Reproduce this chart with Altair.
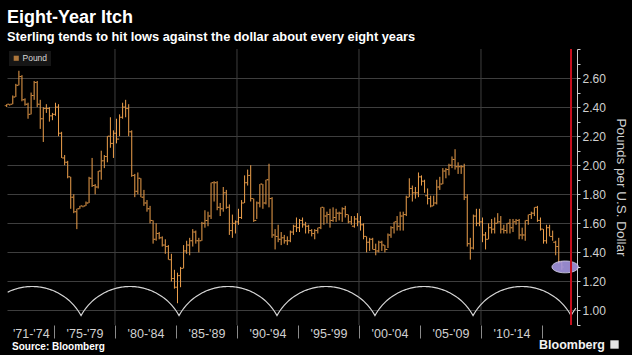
import altair as alt
import pandas as pd
import numpy as np

ORANGE = "#eea04c"
FONT = "Liberation Sans"

# ---- quarterly GBP/USD bars, 1971Q1 .. 2016Q3 (low, high, close) ----
q_low = [
    2.40, 2.41, 2.42, 2.47,  # 1971
    2.55, 2.44, 2.41, 2.32,  # 1972
    2.35, 2.45, 2.40, 2.25,  # 1973
    2.16, 2.36, 2.30, 2.31,  # 1974
    2.34, 2.20, 2.05, 2.00,  # 1975
    1.91, 1.70, 1.67, 1.56,  # 1976
    1.70, 1.71, 1.72, 1.74,  # 1977
    1.85, 1.80, 1.84, 1.90,  # 1978
    1.98, 2.02, 2.12, 2.05,  # 1979
    2.15, 2.20, 2.32, 2.33,  # 1980
    2.20, 1.92, 1.78, 1.80,  # 1981
    1.78, 1.72, 1.68, 1.60,  # 1982
    1.46, 1.48, 1.49, 1.44,  # 1983
    1.39, 1.35, 1.20, 1.15,  # 1984
    1.05, 1.16, 1.29, 1.39,  # 1985
    1.38, 1.44, 1.46, 1.40,  # 1986
    1.48, 1.57, 1.58, 1.63,  # 1987
    1.75, 1.69, 1.65, 1.68,  # 1988
    1.70, 1.52, 1.50, 1.53,  # 1989
    1.59, 1.63, 1.74, 1.86,  # 1990
    1.75, 1.61, 1.63, 1.71,  # 1991
    1.70, 1.73, 1.71, 1.50,  # 1992
    1.42, 1.47, 1.45, 1.46,  # 1993
    1.45, 1.47, 1.52, 1.54,  # 1994
    1.54, 1.57, 1.53, 1.53,  # 1995
    1.51, 1.49, 1.53, 1.56,  # 1996
    1.59, 1.60, 1.57, 1.61,  # 1997
    1.61, 1.62, 1.61, 1.64,  # 1998
    1.60, 1.59, 1.57, 1.58,  # 1999
    1.55, 1.49, 1.40, 1.41,  # 2000
    1.42, 1.38, 1.40, 1.41,  # 2001
    1.40, 1.43, 1.50, 1.53,  # 2002
    1.55, 1.55, 1.55, 1.65,  # 2003
    1.78, 1.75, 1.77, 1.78,  # 2004
    1.86, 1.81, 1.73, 1.71,  # 2005
    1.72, 1.73, 1.83, 1.87,  # 2006
    1.91, 1.93, 1.98, 1.97,  # 2007
    1.94, 1.94, 1.76, 1.44,  # 2008
    1.35, 1.42, 1.58, 1.58,  # 2009
    1.47, 1.42, 1.49, 1.53,  # 2010
    1.53, 1.60, 1.53, 1.53,  # 2011
    1.53, 1.53, 1.54, 1.59,  # 2012
    1.49, 1.49, 1.48, 1.59,  # 2013
    1.63, 1.65, 1.61, 1.55,  # 2014
    1.46, 1.46, 1.51, 1.48,  # 2015
    1.38, 1.32, 1.28,        # 2016
]
q_high = [
    2.42, 2.42, 2.48, 2.56,
    2.65, 2.62, 2.46, 2.43,
    2.50, 2.58, 2.58, 2.45,
    2.40, 2.42, 2.40, 2.36,
    2.43, 2.42, 2.23, 2.07,
    2.03, 1.92, 1.80, 1.70,
    1.72, 1.72, 1.75, 1.92,
    2.05, 1.87, 1.96, 2.10,
    2.07, 2.20, 2.33, 2.24,
    2.32, 2.35, 2.43, 2.45,
    2.42, 2.24, 1.94, 1.95,
    1.91, 1.83, 1.76, 1.72,
    1.62, 1.60, 1.54, 1.51,
    1.49, 1.45, 1.39, 1.28,
    1.26, 1.30, 1.45, 1.48,
    1.50, 1.56, 1.55, 1.50,
    1.61, 1.69, 1.68, 1.88,
    1.89, 1.89, 1.74, 1.85,
    1.83, 1.73, 1.66, 1.62,
    1.70, 1.76, 1.93, 1.97,
    2.00, 1.77, 1.75, 1.87,
    1.87, 1.90, 2.01, 1.78,
    1.56, 1.59, 1.54, 1.52,
    1.51, 1.55, 1.59, 1.64,
    1.63, 1.64, 1.61, 1.59,
    1.56, 1.56, 1.57, 1.71,
    1.71, 1.68, 1.70, 1.71,
    1.70, 1.68, 1.71, 1.72,
    1.66, 1.65, 1.65, 1.67,
    1.65, 1.60, 1.51, 1.50,
    1.50, 1.46, 1.48, 1.48,
    1.45, 1.53, 1.58, 1.61,
    1.65, 1.68, 1.68, 1.79,
    1.91, 1.86, 1.85, 1.95,
    1.93, 1.90, 1.84, 1.79,
    1.79, 1.90, 1.92, 1.98,
    1.98, 2.01, 2.06, 2.11,
    2.02, 2.00, 2.01, 1.80,
    1.50, 1.66, 1.70, 1.70,
    1.64, 1.54, 1.60, 1.63,
    1.64, 1.67, 1.65, 1.59,
    1.60, 1.63, 1.63, 1.63,
    1.63, 1.57, 1.62, 1.66,
    1.68, 1.71, 1.72, 1.64,
    1.56, 1.59, 1.59, 1.55,
    1.48, 1.50, 1.34,
]
q_close = [
    2.42, 2.42, 2.47, 2.55,
    2.61, 2.45, 2.42, 2.35,
    2.48, 2.57, 2.42, 2.32,
    2.39, 2.39, 2.34, 2.35,
    2.40, 2.22, 2.05, 2.02,
    1.92, 1.78, 1.68, 1.70,
    1.72, 1.72, 1.74, 1.91,
    1.86, 1.85, 1.96, 2.03,
    2.06, 2.20, 2.15, 2.22,
    2.18, 2.33, 2.40, 2.39,
    2.23, 1.93, 1.82, 1.91,
    1.78, 1.74, 1.70, 1.62,
    1.49, 1.53, 1.50, 1.45,
    1.44, 1.35, 1.22, 1.16,
    1.24, 1.29, 1.41, 1.45,
    1.48, 1.54, 1.48, 1.48,
    1.60, 1.62, 1.65, 1.88,
    1.88, 1.71, 1.70, 1.81,
    1.71, 1.55, 1.60, 1.61,
    1.64, 1.74, 1.88, 1.93,
    1.77, 1.62, 1.74, 1.87,
    1.74, 1.90, 1.77, 1.52,
    1.51, 1.49, 1.50, 1.48,
    1.48, 1.54, 1.58, 1.57,
    1.62, 1.59, 1.58, 1.55,
    1.53, 1.55, 1.57, 1.71,
    1.65, 1.66, 1.62, 1.64,
    1.67, 1.67, 1.70, 1.66,
    1.61, 1.58, 1.63, 1.61,
    1.59, 1.51, 1.47, 1.49,
    1.42, 1.41, 1.47, 1.45,
    1.42, 1.52, 1.57, 1.61,
    1.58, 1.65, 1.66, 1.78,
    1.84, 1.81, 1.81, 1.92,
    1.89, 1.79, 1.77, 1.72,
    1.74, 1.85, 1.87, 1.96,
    1.97, 2.00, 2.04, 1.99,
    1.99, 1.99, 1.78, 1.46,
    1.43, 1.65, 1.60, 1.61,
    1.52, 1.49, 1.57, 1.56,
    1.60, 1.61, 1.56, 1.55,
    1.60, 1.57, 1.61, 1.62,
    1.52, 1.52, 1.62, 1.66,
    1.67, 1.71, 1.62, 1.56,
    1.48, 1.57, 1.51, 1.47,
    1.44, 1.33, 1.30,
]
first_open = 2.41
start_year = 1971

# ---- axes ----
band_labels = ["'71-'74", "'75-'79", "'80-'84", "'85-'89", "'90-'94",
               "'95-'99", "'00-'04", "'05-'09", "'10-'14"]
band_centers = [1973.1, 1977.5, 1982.5, 1987.5, 1992.5, 1997.5, 2002.5, 2007.5, 2012.5]
band_edges = [1975, 1980, 1985, 1990, 1995, 2000, 2005, 2010, 2015]
grid_years = [1980, 1990, 2000, 2010]
x_domain = [1971.15, 2017.87]
y_domain = [0.9, 2.8]
y_label_values = [1.0, 1.2, 1.4, 1.6, 1.8, 2.0, 2.2, 2.4, 2.6]
y_tick_values = [0.9, 1.0, 1.1, 1.2, 1.3, 1.4, 1.5, 1.6, 1.7, 1.8, 1.9,
                 2.0, 2.1, 2.2, 2.3, 2.4, 2.5, 2.6, 2.7, 2.8]

# ---- eight-year cycle annotation ----
cusp_years = [1969.2, 1977.22, 1985.25, 1993.28, 2001.31, 2009.35, 2017.38, 2025.4]
cusp_level = 0.965
peak_level = 1.165
arc_sag = 0.59          # sagitta / half-width of each arc (in screen proportion)
red_line_year = [2017.38]
ellipse_year = [2016.9]
ellipse_value = [1.30]

# ---------- build tables ----------
n = len(q_close)
t = [start_year + i // 4 + (i % 4) / 4 + 0.125 for i in range(n)]
opens = [first_open] + q_close[:-1]
bars = pd.DataFrame({"t": t, "low": q_low, "high": q_high, "close": q_close,
                     "open": opens, "series": ["Pound"] * n})

R = (1 + arc_sag ** 2) / (2 * arc_sag)
arc_rows = []
for k in range(len(cusp_years) - 1):
    a, b = cusp_years[k], cusp_years[k + 1]
    mid, half = (a + b) / 2, (b - a) / 2
    for tt in np.linspace(a, b, 81):
        if tt < x_domain[0] or tt > x_domain[1]:
            continue
        u = (tt - mid) / half
        yn = np.sqrt(max(R ** 2 - u ** 2, 0)) - (R - arc_sag)
        arc_rows.append({"t": float(tt), "v": cusp_level + (peak_level - cusp_level) * yn / arc_sag})
arcs = pd.DataFrame(arc_rows)

xs = alt.Scale(domain=x_domain, nice=False, zero=False)
ys = alt.Scale(domain=y_domain, nice=False, zero=False)

GRID = "#3e3e3e"
lbl_expr = " : ".join(f'datum.value == {c} ? "{l}"' for c, l in zip(band_centers, band_labels)) + ' : ""'
x_axis = alt.Axis(
    values=sorted(band_edges + band_centers), tickCount=60, title=None, domain=False, grid=False,
    labelExpr=lbl_expr, labelColor="#d0d0d0", labelFont=FONT, labelFontSize=12.5,
    labelPadding=-11, labelBaseline="top", labelFlush=False, labelOverlap=False,
    tickSize=13, tickColor="#8a8a8a", tickWidth=1,
    tickOpacity={"condition": {"test": "datum.value % 5 === 0", "value": 1}, "value": 0},
)
ylab_test = "indexof(" + str(y_label_values) + ", datum.value) >= 0"
y_axis = alt.Axis(
    orient="right", values=y_tick_values, tickCount=60, title="Pounds per U.S. Dollar",
    titleColor="#d0d0d0", titleFont=FONT, titleFontSize=13.5, titleFontWeight="normal",
    titlePadding=8, labelOverlap=False, labelFlush=False,
    labelExpr=f"{ylab_test} ? format(datum.value, '.2f') : ''",
    labelColor="#d0d0d0", labelFont=FONT, labelFontSize=12, labelPadding=2,
    domain=True, domainColor="#cfcfcf", domainWidth=1,
    tickSize=3, tickColor="#cfcfcf",
    grid=True, gridColor=GRID, gridWidth=1,
    gridOpacity={"condition": {"test": ylab_test, "value": 1}, "value": 0},
)

vgrid = alt.Chart(pd.DataFrame({"t": grid_years})).mark_rule(color=GRID, strokeWidth=1).encode(
    x=alt.X("t:Q", scale=xs))

base_bars = alt.Chart(bars)
rule = base_bars.mark_rule(color=ORANGE, strokeWidth=1).encode(
    x=alt.X("t:Q", scale=xs, axis=x_axis),
    y=alt.Y("low:Q", scale=ys, axis=y_axis),
    y2="high:Q",
)
close_tick = base_bars.mark_tick(orient="horizontal", size=1.6, thickness=1, xOffset=1.2).encode(
    x=alt.X("t:Q", scale=xs),
    y=alt.Y("close:Q", scale=ys),
    color=alt.Color("series:N", scale=alt.Scale(domain=["Pound"], range=[ORANGE]),
                    legend=alt.Legend(title=None, orient="top-left", offset=2,
                                      symbolType="square", symbolSize=26,
                                      labelOffset=2, padding=3,
                                      fillColor="#161616",
                                      labelColor="#d8d8d8", labelFont=FONT,
                                      labelFontSize=8.5)),
)
open_tick = base_bars.mark_tick(orient="horizontal", size=1.6, thickness=1, xOffset=-1.2,
                                color=ORANGE).encode(
    x=alt.X("t:Q", scale=xs),
    y=alt.Y("open:Q", scale=ys),
)

arc_line = alt.Chart(arcs).mark_line(color="#d6d6d6", strokeWidth=1.2).encode(
    x=alt.X("t:Q", scale=xs), y=alt.Y("v:Q", scale=ys), order="t:Q")

ell_path = "M -1 0 A 1 0.45 0 1 0 1 0 A 1 0.45 0 1 0 -1 0 Z"
ellipse = alt.Chart(pd.DataFrame({"t": ellipse_year, "v": ellipse_value})).mark_point(
    shape=ell_path, size=700, filled=True, color="#a596e0", opacity=0.9,
    stroke="#eeeaff", strokeWidth=0.8).encode(
    x=alt.X("t:Q", scale=xs), y=alt.Y("v:Q", scale=ys))

red_line = alt.Chart(pd.DataFrame({"t": red_line_year})).mark_rule(
    color="#c8101e", strokeWidth=2).encode(x=alt.X("t:Q", scale=xs))

one = pd.DataFrame({"a": [0]})
source = alt.Chart(one).mark_text(text="Source: Bloomberg", font=FONT, fontWeight="bold",
                                  fontSize=10, color="#ffffff", align="left",
                                  baseline="alphabetic").encode(x=alt.value(5), y=alt.value(301))
logo = alt.Chart(one).mark_text(text="Bloomberg", font=FONT, fontWeight="bold",
                                fontSize=12.5, color="#f2f2f2", align="right",
                                baseline="alphabetic").encode(x=alt.value(598), y=alt.value(300))
icon = alt.Chart(one).mark_square(size=70, color="#ffffff", opacity=0.9).encode(
    x=alt.value(607.5), y=alt.value(295.5))

chart = alt.layer(vgrid, arc_line, rule, open_tick, close_tick, ellipse, red_line,
                  source, logo, icon).properties(
    width=570, height=276,
    padding={"left": 7, "top": 49, "right": 55, "bottom": 30},
    autosize=alt.AutoSizeParams(type="none"),
    title=alt.Title("Eight-Year Itch",
                    subtitle="Sterling tends to hit lows against the dollar about every eight years",
                    anchor="start", frame="group", color="#ffffff",
                    font=FONT, fontSize=18, fontWeight="bold",
                    subtitleColor="#ffffff", subtitleFont=FONT,
                    subtitleFontSize=12.8, subtitleFontWeight="bold",
                    subtitlePadding=4, offset=-0.5),
).configure(background="#000000").configure_view(stroke=None)

chart.save("out.html", embed_options={"renderer": "svg", "actions": False})
